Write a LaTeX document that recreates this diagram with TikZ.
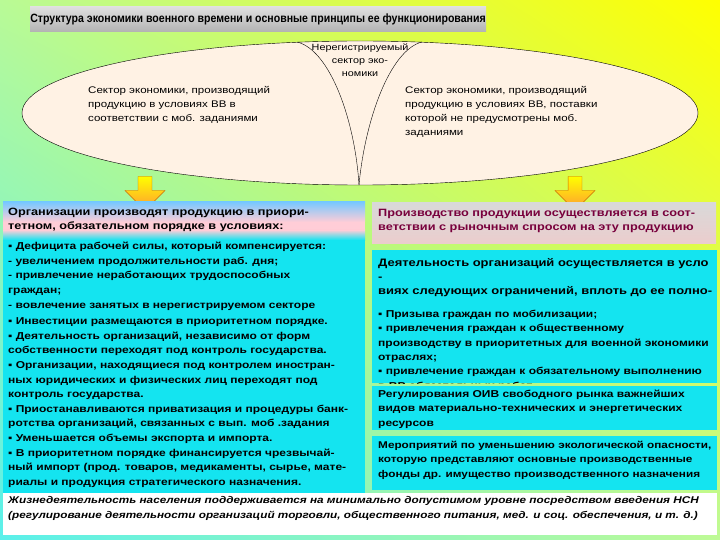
\documentclass[tikz,border=0pt]{standalone}
\usepackage{fontspec}
\setmainfont{Liberation Sans}
\newfontfamily\wide[FakeStretch=1.2]{Liberation Sans}
\newfontfamily\narrow[FakeStretch=0.88]{Liberation Sans}
\usetikzlibrary{shapes.arrows,shapes.geometric,shadings}
\definecolor{cy}{RGB}{20,228,240}
\definecolor{peach}{RGB}{255,242,228}
\definecolor{dred}{RGB}{120,0,60}
\definecolor{bgul}{RGB}{185,250,150}
\definecolor{bgur}{RGB}{255,255,0}
\definecolor{bgll}{RGB}{90,240,235}
\definecolor{bglr}{RGB}{190,250,150}
\definecolor{lblue}{RGB}{120,200,255}
\definecolor{pink}{RGB}{255,205,215}
\definecolor{rpink}{RGB}{235,205,205}
\begin{document}
\begin{tikzpicture}[x=1pt,y=-1pt,
 txt/.style={font=\wide\fontsize{10}{14.6}\selectfont\bfseries,align=left,anchor=north west,inner sep=0pt},
 etxt/.style={font=\wide\fontsize{9.6}{14}\selectfont,align=left,anchor=north west,inner sep=0pt},
 yarrow/.style={single arrow,draw=orange!80!black,top color=yellow,bottom color=orange!80,shape border rotate=270,minimum height=34,minimum width=40,single arrow head extend=6,inner sep=3}]
\useasboundingbox (0,0) rectangle (720,540);
\shade[upper left=bgul,upper right=bgur,lower left=bgll,lower right=bglr] (0,0) rectangle (720,540);
% title
\shade[top color=gray!25,bottom color=gray!60] (30,7) rectangle (486,32);
\node[font=\narrow\fontsize{12}{14}\selectfont\bfseries,inner sep=0] (title) at (258,19.5) {Структура экономики военного времени и основные принципы ее функционирования};
% ellipse
\node[ellipse,draw,fill=peach,minimum width=676,minimum height=144,inner sep=0] (ell) at (360,113) {};
\draw (297,42) .. controls (330,50) and (355,120) .. (359,185);
\draw (422,42) .. controls (390,50) and (365,120) .. (359,185);
\node[etxt,anchor=north,align=center,font=\wide\fontsize{9}{13}\selectfont] (nr) at (360,44) {Нерегистрируемый\\сектор эко-\\номики};
\node[etxt] (lt) at (88,86) {Сектор экономики, производящий\\продукцию в условиях ВВ в\\соответствии с моб. заданиями};
\node[etxt] (rt) at (405,86) {Сектор экономики, производящий\\продукцию в условиях ВВ, поставки\\которой не предусмотрены моб.\\заданиями};
% arrows
\node[yarrow] (a1) at (145,190) {};
\node[yarrow] (a2) at (575,190) {};
% left panel
\shade[top color=lblue,bottom color=pink] (3,202) rectangle (365,222);
\fill[pink] (3,222) rectangle (365,230);
\shade[top color=pink,bottom color=cy] (3,230) rectangle (365,240);
\fill[cy] (3,240) rectangle (365,493);
\node[txt,font=\wide\fontsize{10.6}{14}\selectfont\bfseries] (lh) at (8,208) {Организации производят продукцию в приори-\\тетном, обязательном порядке в условиях:};
\node[txt] (lb) at (8,242) {▪ Дефицита рабочей силы, который компенсируется:\\- увеличением продолжительности раб. дня;\\- привлечение неработающих трудоспособных\\граждан;\\- вовлечение занятых в нерегистрируемом секторе\\[2pt]▪ Инвестиции размещаются в приоритетном порядке.\\▪ Деятельность организаций, независимо от форм\\собственности переходят под контроль государства.\\▪ Организации, находящиеся под контролем иностран-\\ных юридических и физических лиц переходят под\\контроль государства.\\▪ Приостанавливаются приватизация и процедуры банк-\\ротства организаций, связанных с вып. моб .задания\\▪ Уменьшается объемы экспорта и импорта.\\▪ В приоритетном порядке финансируется чрезвычай-\\ный импорт (прод. товаров, медикаменты, сырье, мате-\\риалы и продукция стратегического назначения.};
% right header
\shade[top color=gray!30,bottom color=rpink] (372,203) rectangle (716,243);
\node[txt,font=\wide\fontsize{10.6}{14}\selectfont\bfseries,text=dred] (rh) at (378,209) {Производство продукции осуществляется в соот-\\ветствии с рыночным спросом на эту продукцию};
% right box1
\fill[cy] (372,250) rectangle (717,383);
\begin{scope}
\clip (372,250) rectangle (717,383);
\node[txt,font=\wide\fontsize{10.8}{14}\selectfont\bfseries] (r1h) at (378,258) {Деятельность организаций осуществляется в усло\\-\\виях следующих ограничений, вплоть до ее полно-};
\node[txt,font=\wide\fontsize{10}{14.3}\selectfont\bfseries] (r1b) at (378,310) {▪ Призыва граждан по мобилизации;\\▪  привлечения граждан к общественному\\производству  в приоритетных для военной экономики\\отраслях;\\▪  привлечение граждан к обязательному выполнению};
\node[txt,font=\wide\fontsize{10}{14.3}\selectfont\bfseries] (r1c) at (378,381.5) {в ВР обязательных работ};
\end{scope}
\fill[cy] (372,386) rectangle (717,430);
\node[txt,font=\wide\fontsize{10}{14.3}\selectfont\bfseries] (r2) at (378,390) {Регулирования ОИВ свободного рынка важнейших\\видов материально-технических и энергетических\\ресурсов};
\fill[cy] (372,436) rectangle (717,490);
\node[txt,font=\wide\fontsize{9.8}{14.3}\selectfont\bfseries] (r3) at (378,441) {Мероприятий по уменьшению экологической опасности,\\которую представляют основные производственные\\фонды др. имущество производственного назначения};
% bottom
\fill[white] (3,493) rectangle (717,535);
\node[txt,font=\wide\fontsize{9.8}{15}\selectfont\bfseries\itshape] (bt) at (8,496) {Жизнедеятельность населения поддерживается на минимально допустимом уровне посредством введения НСН\\(регулирование деятельности организаций торговли, общественного питания, мед. и соц. обеспечения, и т. д.)};
\end{tikzpicture}
\end{document}
